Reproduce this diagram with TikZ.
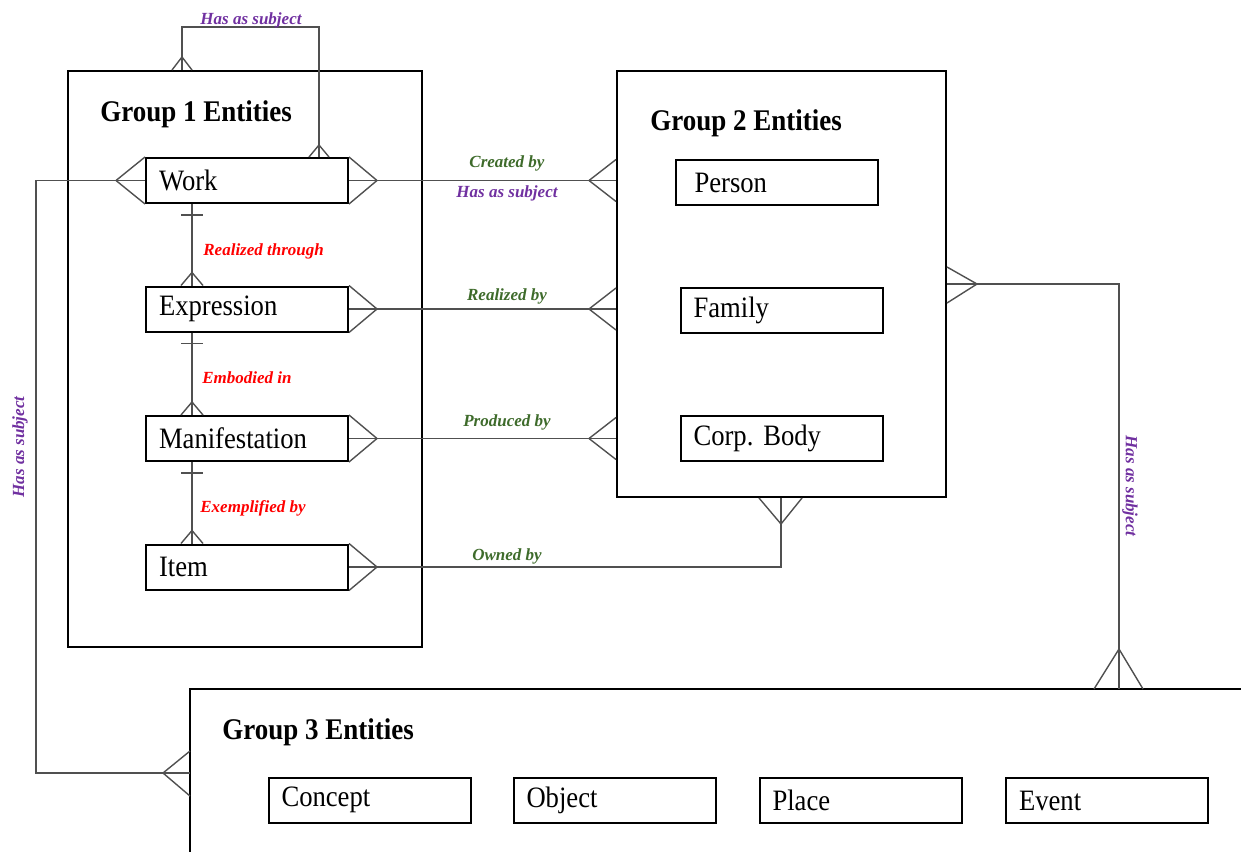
\documentclass[tikz,border=0pt]{standalone}
\usepackage{fontspec}
\setmainfont{Liberation Serif}
\newfontfamily\entf[FakeStretch=0.9]{Liberation Serif}
\usetikzlibrary{calc}
\definecolor{lblgreen}{HTML}{3E6B2B}
\definecolor{lblpurple}{HTML}{7030A0}
\definecolor{lblred}{HTML}{FF0000}
\definecolor{conn}{HTML}{505050}
\begin{document}
\begin{tikzpicture}[x=0.5pt,y=-0.5pt,
 ent/.style={draw, line width=1pt, minimum height=22.5pt, text width=88pt, inner xsep=6.5pt, align=left, font=\entf\fontsize{14.8}{16}\selectfont},
 grp/.style={draw, line width=1pt, inner sep=0pt},
 ttl/.style={font=\entf\fontsize{15}{16}\selectfont\bfseries, anchor=base west, inner sep=0pt},
 lbl/.style={font=\fontsize{8.5}{10}\selectfont\bfseries\itshape, inner sep=0pt},
 cn/.style={draw=conn, line width=0.7pt},
]
\useasboundingbox (0,0) rectangle (1241,851);
\clip (0,0) rectangle (1241,851);

% group boxes
\node[grp, minimum width=177pt, minimum height=288pt] (g1) at (245,359) {};
\node[grp, minimum width=164.5pt, minimum height=213pt] (g2) at (781.5,284) {};
\node[grp, minimum width=555pt, minimum height=105.5pt] (g3) at (745,794.5) {};

% titles
\node[ttl] (t1) at (100,121) {Group 1 Entities};
\node[ttl] (t2) at (650,130) {Group 2 Entities};
\node[ttl] (t3) at (222,739) {Group 3 Entities};

% group 1 entities
\node[ent] (work) at (247,180.5) {Work};
\node[ent] (expr) at (247,309) {Expression};
\node[ent] (mani) at (247,438.5) {Manifestation};
\node[ent] (item) at (247,567) {Item};

% group 2 entities
\node[ent, text width=82pt, inner xsep=9.5pt] (person) at (776.5,182.5) {Person};
\node[ent] (family) at (781.5,310) {Family};
\node[ent] (corp) at (781.5,438.5) {Corp.\ Body};

% group 3 entities
\node[ent] (concept) at (369.5,800) {Concept};
\node[ent] (object) at (614.5,800) {Object};
\node[ent] (place) at (860.5,800.5) {Place};
\node[ent] (event) at (1107,800.5) {Event};

% ---------- Work top loop (Has as subject)
\coordinate (wtop) at ($(work.north west)+(174,0)$);
\coordinate (g1top) at ($(g1.north west)+(115,0)$);
\coordinate (loopR) at ($(wtop)+(0,-130)$);
\coordinate (loopL) at (g1top |- loopR);
\draw[cn] (wtop) -- (loopR) -- (loopL) -- (g1top);
\draw[cn] ($(wtop)+(-10,0)$) -- ($(wtop)+(0,-12)$) -- ($(wtop)+(10,0)$);
\draw[cn] ($(g1top)+(-10,0)$) -- ($(g1top)+(0,-13)$) -- ($(g1top)+(10,0)$);
\node[lbl, text=lblpurple] (lhs1) at (251,20) {Has as subject};

% ---------- Work left to Group 3
\coordinate (lc1) at ($(work.west)+(-109,0)$);
\coordinate (g3L) at (190,773);
\coordinate (lc2) at (lc1 |- g3L);
\draw[cn] (work.west) -- (lc1) -- (lc2) -- (g3L);
\draw[cn] (work.north west) -- ($(work.west)+(-29,0)$) -- (work.south west);
\draw[cn] ($(g3L)+(0,-22)$) -- ($(g3L)+(-27,0)$) -- ($(g3L)+(0,23)$);
\node[lbl, text=lblpurple, rotate=90] (lhs2) at (20,447) {Has as subject};

% ---------- Group 1 to Group 2 connectors
\foreach \e in {work, expr, mani, item}{
  \draw[cn] (\e.north east) -- ($(\e.east)+(28,0)$) -- (\e.south east);
}
\foreach \e in {work, expr, mani}{
  \coordinate (\e g2) at (g2.west |- \e.east);
  \draw[cn] (\e.east) -- (\e g2);
  \draw[cn] ($(\e g2)+(0,-21)$) -- ($(\e g2)+(-27,0)$) -- ($(\e g2)+(0,21)$);
}
\node[lbl, text=lblgreen] (lcr) at (507,163) {Created by};
\node[lbl, text=lblpurple] (lhs3) at (507,193) {Has as subject};
\node[lbl, text=lblgreen] (lrb) at (507,296) {Realized by};
\node[lbl, text=lblgreen] (lpb) at (507,422) {Produced by};

% Item owned by
\coordinate (g2b) at ($(g2.south west)+(165,0)$);
\coordinate (ownc) at (g2b |- item.east);
\draw[cn] (item.east) -- (ownc) -- (g2b);
\draw[cn] ($(g2b)+(-22,0)$) -- ($(g2b)+(0,26)$) -- ($(g2b)+(21,0)$);
\node[lbl, text=lblgreen] (lob) at (507,556) {Owned by};

% ---------- vertical relations inside Group 1
\foreach \a/\b in {work/expr, expr/mani, mani/item}{
  \coordinate (\a s) at ($(\a.south west)+(47,0)$);
  \coordinate (\b n) at ($(\b.north west)+(47,0)$);
  \draw[cn] (\a s) -- (\b n);
  \draw[cn] ($(\a s)+(-11,11)$) -- ($(\a s)+(11,11)$);
  \draw[cn] ($(\b n)+(-11,0)$) -- ($(\b n)+(0,-13)$) -- ($(\b n)+(11,0)$);
}
\node[lbl, text=lblred, anchor=west] (lrt) at (203,251) {Realized through};
\node[lbl, text=lblred, anchor=west] (lem) at (202,378) {Embodied in};
\node[lbl, text=lblred, anchor=west] (lex) at (200,508) {Exemplified by};

% ---------- Group 2 to Group 3
\coordinate (g3T) at (1119,689);
\coordinate (rc1) at (g3T |- g2.east);
\draw[cn] (g2.east) -- (rc1) -- (g3T);
\draw[cn] ($(g2.east)+(0,-17)$) -- ($(g2.east)+(30,0)$) -- ($(g2.east)+(0,19)$);
\draw[cn] ($(g3T)+(-25,0)$) -- ($(g3T)+(0,-40)$) -- ($(g3T)+(24,0)$);
\node[lbl, text=lblpurple, rotate=-90] (lhs4) at (1130,486) {Has as subject};
\end{tikzpicture}
\end{document}
